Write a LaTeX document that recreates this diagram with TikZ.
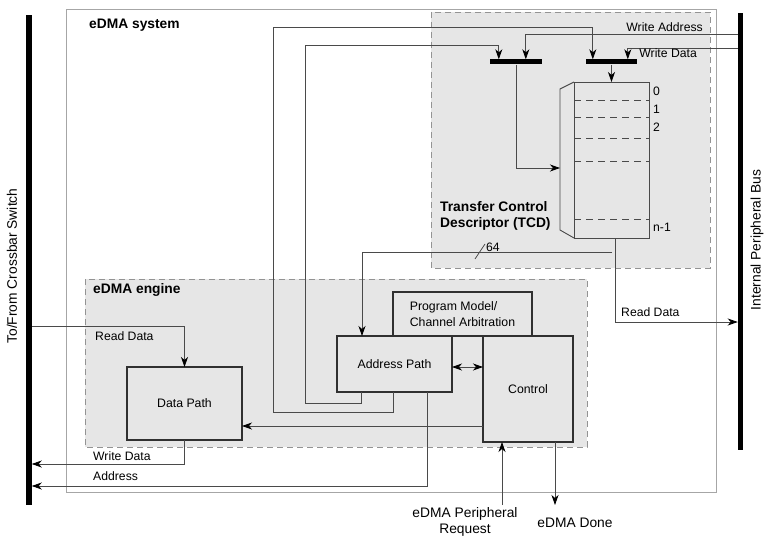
\documentclass[tikz,border=0pt]{standalone}
\usepackage{fontspec}
\setmainfont{Liberation Sans}
\usetikzlibrary{arrows.meta}
\definecolor{wiregray}{HTML}{4A4A4A}
\definecolor{boxline}{HTML}{303030}
\definecolor{panel}{HTML}{E6E6E6}
\tikzset{
  sig/.tip={Stealth[length=10pt,width=7pt,inset=3pt,black]},
  wire/.style={draw=wiregray,line width=0.8pt},
  arr/.style={wire,-{sig}},
  block/.style={draw=boxline,line width=1.3pt,fill=panel,inner sep=0pt,outer sep=0pt,
    font=\fontsize{12.3}{15.5}\selectfont},
  region/.style={draw=gray!85,dash pattern=on 6pt off 4pt,fill=panel,line width=0.8pt},
  bus/.style={fill=black,inner sep=0pt,outer sep=0pt,minimum width=5.5pt},
  lbl/.style={font=\fontsize{12.2}{14}\selectfont,inner sep=0pt},
  biglbl/.style={font=\fontsize{13.8}{15.5}\selectfont,inner sep=0pt},
  title/.style={font=\fontsize{13.8}{16.5}\selectfont\bfseries,inner sep=0pt},
}
\begin{document}
\begin{tikzpicture}[x=1pt,y=-1pt]
  \useasboundingbox (0,0) rectangle (769,543);
  % system frame and dashed regions
  \draw[draw=gray!70,line width=1pt] (66,10) rectangle (716,492);
  \node[title,anchor=west] (systitle) at (89,25) {eDMA system};
  \draw[region] (431,12) rectangle (710,268);
  \draw[region] (85,279) rectangle (587,447);
  \node[title,anchor=west] (engtitle) at (93,290) {eDMA engine};
  \node[title,anchor=north west,align=left] (tcdtitle) at (440,201) {Transfer Control\\Descriptor (TCD)};

  % buses
  \node[bus,minimum height=490] (lbus) at (29,260) {};
  \node[bus,minimum height=437] (rbus) at (740.5,231.5) {};
  \node[biglbl,rotate=90] (lbuslbl) at (12,266) {To/From Crossbar Switch};
  \node[biglbl,rotate=90] (rbuslbl) at (757,240) {Internal Peripheral Bus};

  % engine blocks
  \node[block,minimum width=115,minimum height=73] (dp) at (184.5,403.5) {Data Path};
  \node[block,minimum width=139,minimum height=44,align=left] (pm) at (462.5,314) {Program Model/\\Channel Arbitration};
  \node[block,minimum width=115,minimum height=56] (ap) at (394.5,364) {Address Path};
  \node[block,minimum width=90,minimum height=106] (ctrl) at (528,389) {Control};

  % TCD
  \node[block,draw=wiregray,line width=0.9pt,minimum width=75,minimum height=156] (tcd) at (611.5,160) {};
  \draw[wire,line width=0.9pt] (tcd.north west) -- ++(-14,7) -- ++(0,141) -- (tcd.south west);
  \foreach \y in {100,117,138,161,219} {\draw[wire,dash pattern=on 7pt off 5pt] (tcd.west |- 0,\y) -- (tcd.east |- 0,\y);}
  \foreach \i/\y in {0/91,1/109,2/127,n-1/227} {\node[lbl,anchor=west] (idx\i) at (653,\y) {\i};}
  \node[fill=black,inner sep=0pt,minimum width=52,minimum height=5] (bar1) at (516,62) {};
  \node[fill=black,inner sep=0pt,minimum width=51,minimum height=5] (bar2) at (611.5,62) {};

  % bus side wires
  \draw[arr] (lbus.east |- 0,326) -| (dp.north);
  \node[lbl,anchor=west] (rdlbl) at (95,336) {Read Data};
  \draw[arr] (dp.south) |- (lbus.east |- 0,464);
  \node[lbl,anchor=west] (wdlbl) at (93,456) {Write Data};
  \draw[arr] ([xshift=32.5pt]ap.south) |- (lbus.east |- 0,486);
  \node[lbl,anchor=west] (adlbl) at (93,476) {Address};
  \draw[arr] (rbus.west |- 0,34) -| ([xshift=36pt]bar1.north west);
  \node[lbl,anchor=east] (walbl) at (703,27) {Write Address};
  \draw[arr] (rbus.west |- 0,48) -| ([xshift=42pt]bar2.north west);
  \node[lbl,anchor=east] (wtlbl) at (697,53) {Write Data};
  \draw[arr] ([xshift=3.5pt]tcd.south) |- (rbus.west |- 0,322);
  \node[lbl,anchor=west] (rdolbl) at (621,312) {Read Data};

  % inner wires
  \draw[arr] (ctrl.west |- 0,426) -- (dp.east |- 0,426);
  \draw[wire,{sig}-{sig}] (ap.east |- 0,367) -- (ctrl.west |- 0,367);
  \draw[arr] ([xshift=-33.5pt]ap.south) |- (305,403) -- (305,45) -| ([xshift=9pt]bar1.north west);
  \draw[arr] ([xshift=-1.5pt]ap.south) |- (273,412) -- (273,27) -| ([xshift=7pt]bar2.north west);
  \coordinate (tcdin) at (560,168);
  \draw[arr] (bar1.south) |- (tcdin);
  \draw[arr] (bar2.south) -- (tcd.north);
  \coordinate (tcdbus) at (612,252);
  \draw[arr] (tcdbus) -| ([xshift=25pt]ap.north west);
  \draw[wire] (475,259) -- (485,244);
  \node[lbl,anchor=west] (w64) at (486,247) {64};

  % control side signals
  \coordinate (preq) at (502,505);
  \draw[arr] (preq) -- (preq |- ctrl.south);
  \node[biglbl,align=center] (preqlbl) at (465,522) {eDMA Peripheral\\Request};
  \coordinate (done) at (555,505);
  \draw[arr] (done |- ctrl.south) -- (done);
  \node[biglbl] (donelbl) at (575,523) {eDMA Done};
\end{tikzpicture}
\end{document}
